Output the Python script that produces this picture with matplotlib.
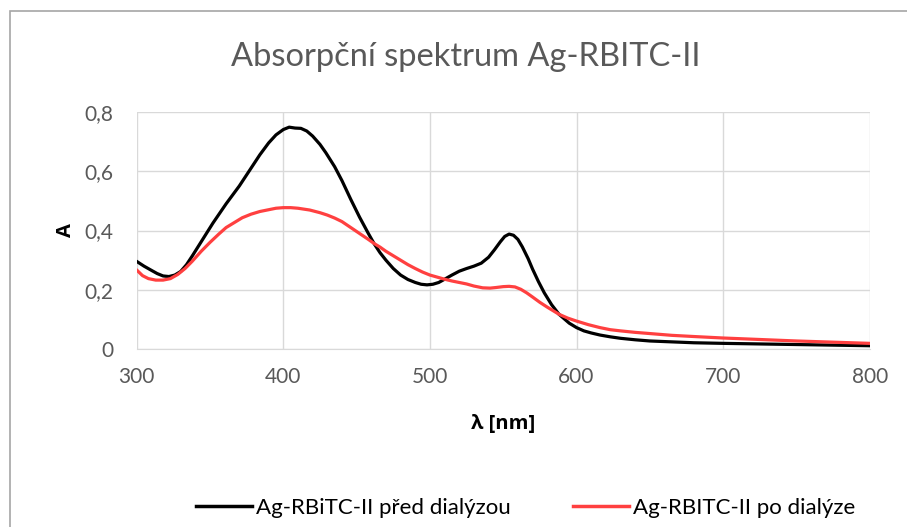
import matplotlib.pyplot as plt
from matplotlib.patches import Rectangle
from matplotlib.lines import Line2D

# wavelengths [nm] and absorbance
wl_pred = [300, 305, 310, 314, 318, 322, 326, 330, 334, 338, 345, 352, 361, 370,
           378, 384, 390, 395, 400, 404, 408, 412, 416, 420, 425, 429, 435, 440,
           446, 452, 458, 462, 466, 470, 475, 480, 485, 490, 494, 498, 502, 506,
           510, 515, 520, 525, 530, 535, 540, 544, 548, 551, 554, 557, 560, 563,
           567, 570, 574, 578, 583, 588, 595, 600, 605, 610, 616, 623, 630, 640,
           650, 665, 680, 700, 725, 750, 775, 800]
a_pred = [0.296, 0.28, 0.266, 0.255, 0.247, 0.245, 0.25, 0.262, 0.285, 0.315, 0.37,
          0.425, 0.49, 0.55, 0.61, 0.655, 0.695, 0.722, 0.74, 0.748, 0.745, 0.744,
          0.735, 0.718, 0.69, 0.662, 0.615, 0.568, 0.505, 0.445, 0.39, 0.355,
          0.325, 0.30, 0.272, 0.25, 0.235, 0.225, 0.219, 0.217, 0.219, 0.225,
          0.236, 0.25, 0.263, 0.272, 0.28, 0.29, 0.31, 0.335, 0.362, 0.38, 0.388,
          0.384, 0.37, 0.345, 0.305, 0.27, 0.228, 0.19, 0.15, 0.118, 0.088, 0.073,
          0.062, 0.055, 0.048, 0.042, 0.037, 0.032, 0.028, 0.025, 0.022, 0.02,
          0.018, 0.016, 0.014, 0.012]

wl_po = [300, 304, 308, 313, 318, 323, 328, 333, 338, 344, 350, 356, 361, 367,
         372, 378, 384, 390, 395, 400, 405, 410, 418, 425, 430, 435, 440, 446,
         452, 458, 462, 466, 470, 475, 480, 485, 490, 495, 500, 505, 510, 515,
         520, 525, 530, 536, 541, 545, 550, 554, 558, 562, 566, 570, 575, 580,
         588, 594, 600, 608, 616, 623, 630, 640, 650, 665, 680, 700, 725, 750,
         775, 800]
a_po = [0.267, 0.248, 0.238, 0.233, 0.233, 0.238, 0.252, 0.272, 0.297, 0.33, 0.36,
        0.388, 0.41, 0.428, 0.443, 0.455, 0.464, 0.47, 0.475, 0.477, 0.477, 0.475,
        0.469, 0.46, 0.452, 0.442, 0.43, 0.41, 0.39, 0.37, 0.356, 0.344, 0.33,
        0.315, 0.30, 0.285, 0.272, 0.26, 0.25, 0.243, 0.236, 0.23, 0.225, 0.22,
        0.213, 0.207, 0.206, 0.208, 0.211, 0.212, 0.21, 0.202, 0.19, 0.176,
        0.158, 0.142, 0.118, 0.105, 0.095, 0.083, 0.073, 0.066, 0.062, 0.057,
        0.053, 0.047, 0.043, 0.038, 0.033, 0.028, 0.024, 0.02]

labels = ["Ag-RBiTC-II před dialýzou", "Ag-RBITC-II po dialýze"]
xticks = [300, 400, 500, 600, 700, 800]
yticks = [0, 0.2, 0.4, 0.6, 0.8]
ytick_labels = ["0", "0,2", "0,4", "0,6", "0,8"]

fonts = ['Lato', 'DejaVu Sans']
bold_fonts = ['Open Sans', 'DejaVu Sans']
gray = '#595959'
red = '#ff4040'

fig = plt.figure(figsize=(9.07, 5.27), dpi=100)
ax = fig.add_axes([0.1507, 0.3372, 0.8083, 0.4508])

ax.plot(wl_pred, a_pred, color='black', lw=2.3, solid_joinstyle='round')
ax.plot(wl_po, a_po, color=red, lw=2.3, solid_joinstyle='round')

ax.set_xlim(300, 800)
ax.set_ylim(0, 0.8)
ax.set_xticks(xticks)
ax.set_yticks(yticks)
ax.set_yticklabels(ytick_labels)
for t in ax.get_xticklabels() + ax.get_yticklabels():
    t.set_family(fonts)
    t.set_fontsize(15)
    t.set_color(gray)
ax.tick_params(axis='y', length=0, pad=17)
ax.tick_params(axis='x', length=0, pad=13)
ax.grid(True, color='#d9d9d9', lw=1)
ax.set_axisbelow(True)
for s in ['top', 'right', 'left']:
    ax.spines[s].set_visible(False)
ax.spines['bottom'].set_color('#d9d9d9')

ax.set_xlabel("λ [nm]", family=bold_fonts, fontweight='bold',
              fontsize=14.5, labelpad=19)
ax.set_ylabel("A", family=bold_fonts, fontweight='bold',
              fontsize=14.5, labelpad=6)

fig.text(0.513, 0.892, "Absorpční spektrum Ag-RBITC-II", family=fonts,
         fontsize=23.5, color=gray, ha='center', va='center')

handles = [Line2D([], [], color='black', lw=2.5), Line2D([], [], color=red, lw=2.5)]
leg = fig.legend(handles, labels, loc='center', bbox_to_anchor=(0.58, 0.036),
                 ncol=2, frameon=False, handlelength=2.5, handletextpad=0.2,
                 columnspacing=2.8, prop={'family': fonts, 'size': 16})

# chart border
fig.patches.append(Rectangle((10 / 907, -0.1), 1.2, 1 - 11 / 527 + 0.1,
                             transform=fig.transFigure, fill=False,
                             edgecolor='#a6a6a6', lw=1.2))

fig.savefig('out.png', dpi=100)
